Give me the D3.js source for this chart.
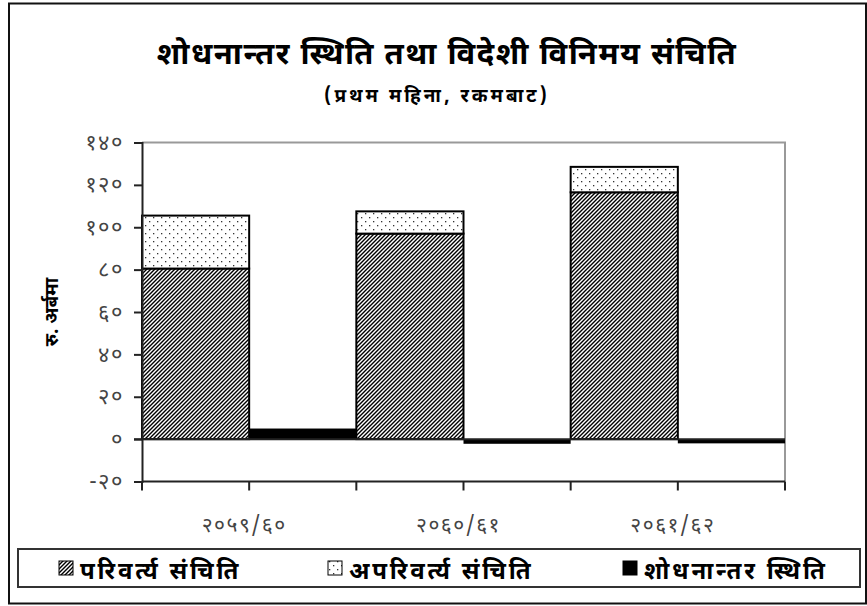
<!DOCTYPE html>
<html><head><meta charset="utf-8">
<script src="https://cdn.jsdelivr.net/npm/d3@7"></script>
<style>
html,body{margin:0;padding:0;background:#fff;}
svg text{font-family:"Noto Sans Devanagari","Lohit Devanagari","Noto Sans",sans-serif;}
</style></head>
<body><svg id="c" width="867" height="606"></svg>
<script>
const categories = ['२०५९/६०', '२०६०/६१', '२०६१/६२'];
const convertible = [80.5, 97, 116.5];
const nonConvertible = [25, 10.5, 12];
const bopPosition = [5, -2.2, -2];
const yTicks = [-20, 0, 20, 40, 60, 80, 100, 120, 140];
const seriesNames = ['परिवर्त्य संचिति', 'अपरिवर्त्य संचिति', 'शोधनान्तर स्थिति'];
const titleText = 'शोधनान्तर स्थिति तथा विदेशी विनिमय संचिति';
const subtitleText = '(प्रथम महिना, रकमबाट)';
const yLabel = 'रु. अर्बमा';

(function(){
const devDigits = '०१२३४५६७८९';
const toDev = n => String(n).replace(/\d/g, d => devDigits[+d]);

const svg = d3.select('#c');
const defs = svg.append('defs');
const hatch = defs.append('pattern').attr('id','hatch').attr('patternUnits','userSpaceOnUse')
  .attr('width',4).attr('height',4);
hatch.append('rect').attr('width',4).attr('height',4).attr('fill','#fff');
hatch.append('path').attr('d','M-1,1 l2,-2 M0,4 l4,-4 M3,5 l2,-2').attr('stroke','#000').attr('stroke-width',1.4);
const dots = defs.append('pattern').attr('id','dots').attr('patternUnits','userSpaceOnUse')
  .attr('width',8).attr('height',8);
dots.append('rect').attr('width',8).attr('height',8).attr('fill','#fff');
dots.append('rect').attr('x',1).attr('y',1).attr('width',1.3).attr('height',1.3).attr('fill','#333');
dots.append('rect').attr('x',5).attr('y',5).attr('width',1.3).attr('height',1.3).attr('fill','#333');

svg.append('rect').attr('x',9).attr('y',3.5).attr('width',857).attr('height',600)
  .attr('fill','none').attr('stroke','#111').attr('stroke-width',2);

svg.append('text').attr('x',447).attr('y',64).attr('text-anchor','middle')
  .attr('font-size',31).attr('font-weight','bold').attr('letter-spacing',1.5).text(titleText);
svg.append('text').attr('x',437).attr('y',102).attr('text-anchor','middle')
  .attr('font-size',19).attr('font-weight','bold').attr('letter-spacing',3).text(subtitleText);

const pL = 142, pR = 785, pT = 142.5, pB = 481.5;
const y = d3.scaleLinear().domain([-20, 140]).range([pB, pT]);
const x = d3.scaleBand().domain(categories).range([pL, pR]).padding(0);
const xs = d3.scaleBand().domain(['stack','bop']).range([0, x.bandwidth()]).padding(0);

svg.append('path').attr('d',`M${pL},${pT}H${pR}V${pB}`).attr('fill','none')
  .attr('stroke','#999').attr('stroke-width',2);

const g = svg.append('g');
categories.forEach((c, i) => {
  const x0 = x(c) + xs('stack'), w = xs.bandwidth();
  g.append('rect').attr('x',x0).attr('y',y(convertible[i])).attr('width',w)
    .attr('height',y(0)-y(convertible[i])).attr('fill','url(#hatch)').attr('stroke','#000').attr('stroke-width',2);
  const tot = convertible[i] + nonConvertible[i];
  g.append('rect').attr('x',x0).attr('y',y(tot)).attr('width',w)
    .attr('height',y(convertible[i])-y(tot)).attr('fill','url(#dots)').attr('stroke','#000').attr('stroke-width',2);
  const xb = x(c) + xs('bop'), v = bopPosition[i];
  g.append('rect').attr('x',xb).attr('y',Math.min(y(v),y(0))).attr('width',xs.bandwidth())
    .attr('height',Math.abs(y(v)-y(0))).attr('fill','#000');
});

const yAxis = d3.axisLeft(y).tickValues(yTicks).tickSize(8).tickPadding(10).tickFormat(toDev);
const ya = svg.append('g').attr('transform',`translate(${pL},0)`).call(yAxis);
ya.select('.domain').attr('stroke','#222').attr('stroke-width',2);
ya.selectAll('.tick line').attr('stroke','#222').attr('stroke-width',2);
ya.selectAll('.tick text').attr('font-size',22).attr('fill','#444').attr('letter-spacing',1.5);

svg.append('line').attr('x1',pL-8).attr('x2',pR).attr('y1',y(0)).attr('y2',y(0))
  .attr('stroke','#222').attr('stroke-width',2);

const xAxisG = svg.append('g').attr('transform',`translate(0,${pB})`);
xAxisG.append('line').attr('x1',pL).attr('x2',pR).attr('stroke','#222').attr('stroke-width',2);
const tickXs = [];
categories.forEach(c => { tickXs.push(x(c)); tickXs.push(x(c)+xs('bop')); });
tickXs.push(pR);
xAxisG.selectAll('line.t').data(tickXs).join('line').attr('class','t')
  .attr('x1',d=>d).attr('x2',d=>d).attr('y1',0).attr('y2',9).attr('stroke','#222').attr('stroke-width',2);
xAxisG.selectAll('text.l').data(categories).join('text').attr('class','l')
  .attr('x',c => x(c)+xs('bop')-5).attr('y',50).attr('text-anchor','middle')
  .attr('font-size',21).attr('fill','#444').attr('letter-spacing',1.5).text(d=>d);

svg.append('text').attr('transform','translate(58,312) rotate(-90)').attr('text-anchor','middle')
  .attr('font-size',19).attr('font-weight','bold').text(yLabel);

svg.append('rect').attr('x',18).attr('y',549).attr('width',842).attr('height',38)
  .attr('fill','none').attr('stroke','#333').attr('stroke-width',2);
const legX = [59, 328, 623];
const fills = ['url(#hatch)','url(#dots)','#000'];
seriesNames.forEach((n, i) => {
  svg.append('rect').attr('x',legX[i]).attr('y',561).attr('width',14).attr('height',14)
    .attr('fill',fills[i]).attr('stroke','#000').attr('stroke-width',1);
  svg.append('text').attr('x',legX[i]+21).attr('y',579).attr('font-size',24).attr('font-weight','bold')
    .attr('letter-spacing',2.8).text(n);
});
})();
</script></body></html>
